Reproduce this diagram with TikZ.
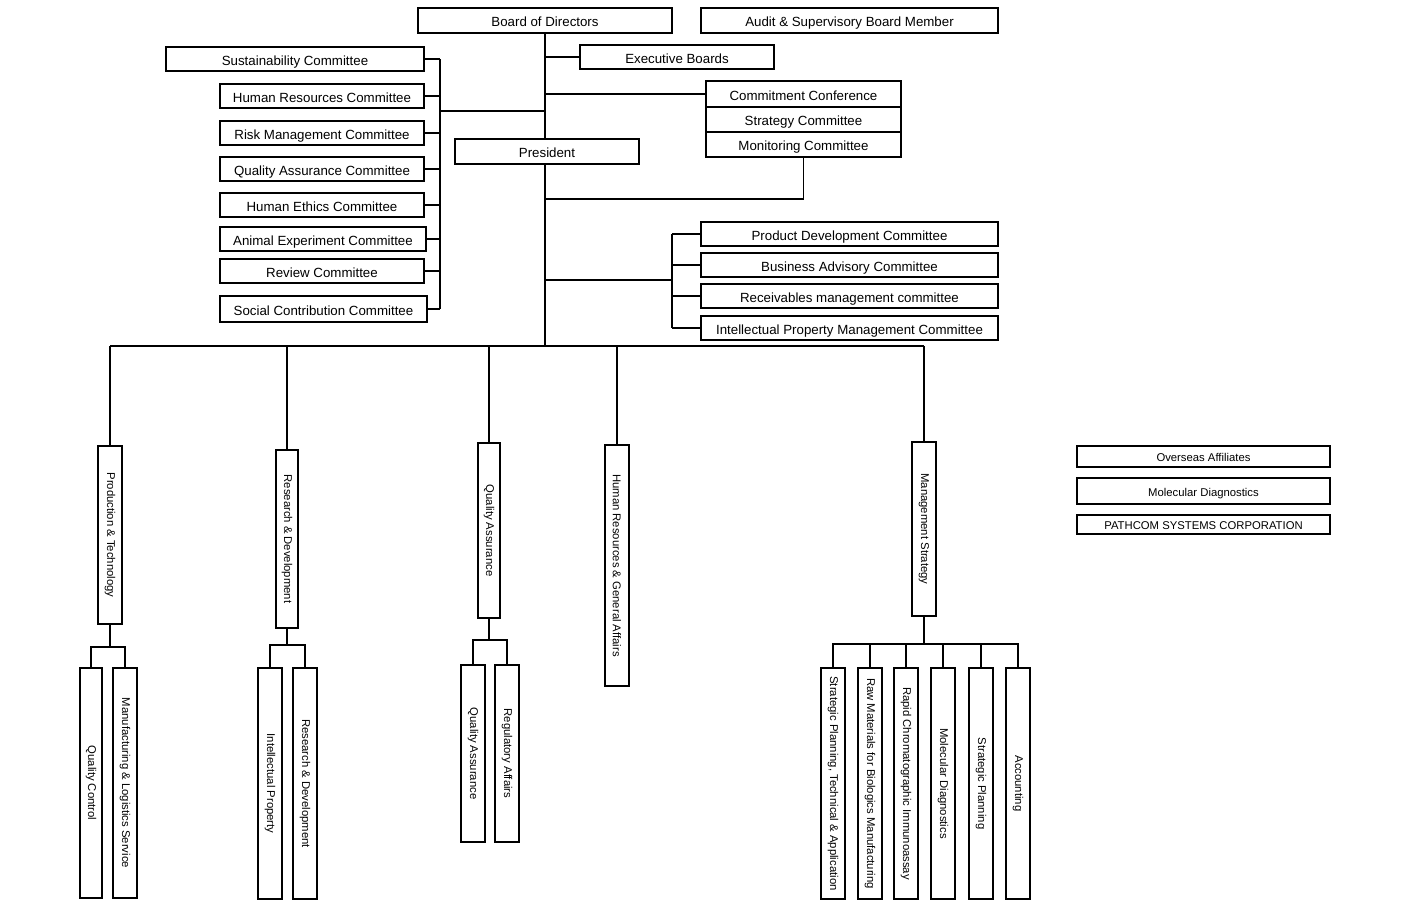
\documentclass[tikz,border=0pt]{standalone}
\usepackage{fontspec}
\setmainfont{Liberation Sans}
\tikzset{
  org/.style={draw, line width=1.9pt, inner sep=0pt, text height=12.4pt, text depth=0pt, font=\fontsize{13.3}{16}\selectfont},
  dept/.style={draw, line width=1.9pt, inner sep=0pt, font=\fontsize{11.3}{13}\selectfont},
  aff/.style={dept, text height=10.6pt, text depth=0pt},
  link/.style={line width=1.9pt},
}
\newcommand{\downtext}[1]{\rotatebox{-90}{#1}}
\begin{document}
\begin{tikzpicture}[x=1pt,y=-1pt]
  \useasboundingbox (0,0) rectangle (1401,903);
  % board level
  \node[org, minimum width=254, minimum height=25] (board) at (545,20.5) {Board of Directors};
  \node[org, minimum width=297, minimum height=25] (audit) at (849.5,20.5) {Audit \& Supervisory Board Member};
  \node[org, minimum width=194, minimum height=24] (exec) at (677,57) {Executive Boards};
  \node[org, minimum width=184, minimum height=25] (pres) at (547,151.5) {President};
  % left committees
  \node[org, minimum width=258, minimum height=24] (sust) at (295,59) {Sustainability Committee};
  \node[org, minimum width=204, minimum height=24] (hrc) at (322,96) {Human Resources Committee};
  \node[org, minimum width=204, minimum height=24] (risk) at (322,133) {Risk Management Committee};
  \node[org, minimum width=204, minimum height=24] (qac) at (322,169) {Quality Assurance Committee};
  \node[org, minimum width=204, minimum height=24] (ethic) at (322,205) {Human Ethics Committee};
  \node[org, minimum width=206, minimum height=24] (animal) at (323,239) {Animal Experiment Committee};
  \node[org, minimum width=204, minimum height=24] (review) at (322,271) {Review Committee};
  \node[org, minimum width=207, minimum height=26] (social) at (323.5,309) {Social Contribution Committee};
  % conference stack
  \node[org, minimum width=195, minimum height=26] (conf) at (803.5,94) {Commitment Conference};
  \node[org, minimum width=195, minimum height=25] (strat) at (803.5,119.5) {Strategy Committee};
  \node[org, minimum width=195, minimum height=25] (monit) at (803.5,144.5) {Monitoring Committee};
  % right committees
  \node[org, minimum width=297, minimum height=24] (prodc) at (849.5,234) {Product Development Committee};
  \node[org, minimum width=297, minimum height=24] (busc) at (849.5,265) {Business Advisory Committee};
  \node[org, minimum width=297, minimum height=24] (recc) at (849.5,296) {Receivables management committee};
  \node[org, minimum width=297, minimum height=24] (ipc) at (849.5,328) {Intellectual Property Management Committee};
  % divisions
  \node[dept, minimum width=24, minimum height=178] (prod) at (110,535) {\downtext{Production \& Technology}};
  \node[dept, minimum width=22, minimum height=178] (rd) at (287,539) {\downtext{Research \& Development}};
  \node[dept, minimum width=22, minimum height=175] (qa) at (489,530.5) {\downtext{Quality Assurance}};
  \node[dept, minimum width=24, minimum height=241] (hr) at (617,565.5) {\downtext{Human Resources \& General Affairs}};
  \node[dept, minimum width=24, minimum height=174] (ms) at (924,529) {\downtext{Management Strategy}};
  % sections
  \node[dept, minimum width=22, minimum height=230] (qc) at (91,783) {\downtext{Quality Control}};
  \node[dept, minimum width=24, minimum height=230] (mls) at (125,783) {\downtext{Manufacturing \& Logistics Service}};
  \node[dept, minimum width=24, minimum height=231] (ip) at (270,783.5) {\downtext{Intellectual Property}};
  \node[dept, minimum width=24, minimum height=231] (rdd) at (305,783.5) {\downtext{Research \& Development}};
  \node[dept, minimum width=24, minimum height=177] (qas) at (473,753.5) {\downtext{Quality Assurance}};
  \node[dept, minimum width=24, minimum height=177] (reg) at (507,753.5) {\downtext{Regulatory Affairs}};
  \node[dept, minimum width=24, minimum height=231] (ms1) at (833,783.5) {\downtext{Strategic Planning, Technical \& Application}};
  \node[dept, minimum width=24, minimum height=231] (ms2) at (870,783.5) {\downtext{Raw Materials for Biologics Manufacturing}};
  \node[dept, minimum width=24, minimum height=231] (ms3) at (906,783.5) {\downtext{Rapid Chromatographic Immunoassay}};
  \node[dept, minimum width=24, minimum height=231] (ms4) at (943,783.5) {\downtext{Molecular Diagnostics}};
  \node[dept, minimum width=24, minimum height=231] (ms5) at (981,783.5) {\downtext{Strategic Planning}};
  \node[dept, minimum width=24, minimum height=231] (ms6) at (1018,783.5) {\downtext{Accounting}};
  % affiliates
  \node[aff, minimum width=253, minimum height=21] (ovs) at (1203.5,456.5) {Overseas Affiliates};
  \node[aff, minimum width=253, minimum height=26] (mold) at (1203.5,491) {Molecular Diagnostics};
  \node[aff, minimum width=253, minimum height=19] (path) at (1203.5,524.5) {PATHCOM SYSTEMS CORPORATION};
  % junction points
  \coordinate (lbus) at (440,111);
  \coordinate (mjoin) at (545,199);
  \coordinate (rbus) at (672,280);
  \coordinate (dbus) at (545,346);
  \begin{scope}[link]
    \draw (board.south) -- (pres.north -| board.south);
    \draw (pres.south -| board.south) -- (dbus);
    \draw (exec.west) -- (exec.west -| board.south);
    \draw (conf.west) -- (conf.west -| board.south);
    \draw (monit.south) |- (mjoin);
    % left bus
    \draw (sust.east -| lbus) -- (social.east -| lbus);
    \draw (lbus) -- (lbus -| board.south);
    \draw (sust.east) -- (sust.east -| lbus);
    \draw (hrc.east) -- (hrc.east -| lbus);
    \draw (risk.east) -- (risk.east -| lbus);
    \draw (qac.east) -- (qac.east -| lbus);
    \draw (ethic.east) -- (ethic.east -| lbus);
    \draw (animal.east) -- (animal.east -| lbus);
    \draw (review.east) -- (review.east -| lbus);
    \draw (social.east) -- (social.east -| lbus);
    % right bus
    \draw (prodc.west -| rbus) -- (ipc.west -| rbus);
    \draw (rbus) -- (rbus -| board.south);
    \draw (prodc.west) -- (prodc.west -| rbus);
    \draw (busc.west) -- (busc.west -| rbus);
    \draw (recc.west) -- (recc.west -| rbus);
    \draw (ipc.west) -- (ipc.west -| rbus);
    % divisions
    \draw (prod.north |- dbus) -- (ms.north |- dbus);
    \draw (prod.north) -- (prod.north |- dbus);
    \draw (rd.north) -- (rd.north |- dbus);
    \draw (qa.north) -- (qa.north |- dbus);
    \draw (hr.north) -- (hr.north |- dbus);
    \draw (ms.north) -- (ms.north |- dbus);
    % sections
    \draw (qc.north) -- ++(0,-20) coordinate (pbar) -| (mls.north);
    \draw (prod.south) -- (prod.south |- pbar);
    \draw (ip.north) -- ++(0,-22) coordinate (rbar) -| (rdd.north);
    \draw (rd.south) -- (rd.south |- rbar);
    \draw (qas.north) -- ++(0,-24) coordinate (qbar) -| (reg.north);
    \draw (qa.south) -- (qa.south |- qbar);
    \draw (ms1.north) -- ++(0,-23) coordinate (mbar) -| (ms6.north);
    \draw (ms2.north) -- (ms2.north |- mbar);
    \draw (ms3.north) -- (ms3.north |- mbar);
    \draw (ms4.north) -- (ms4.north |- mbar);
    \draw (ms5.north) -- (ms5.north |- mbar);
    \draw (ms.south) -- (ms.south |- mbar);
  \end{scope}
\end{tikzpicture}
\end{document}
